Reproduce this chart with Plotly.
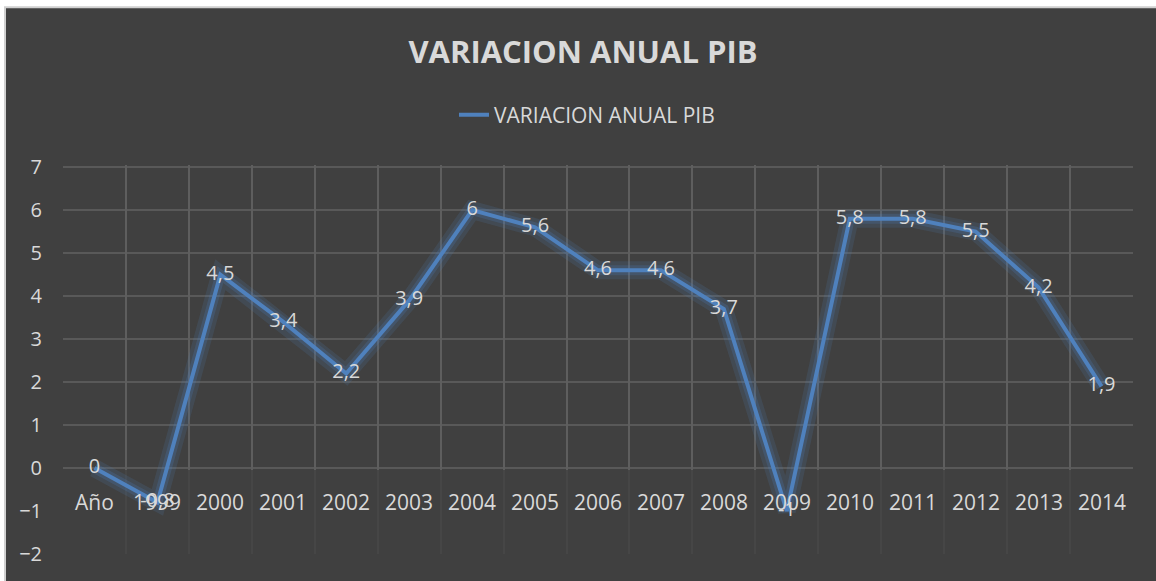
import plotly.graph_objects as go

categories = ["Año", "1999", "2000", "2001", "2002", "2003", "2004", "2005", "2006",
              "2007", "2008", "2009", "2010", "2011", "2012", "2013", "2014"]
values = [0, -0.8, 4.5, 3.4, 2.2, 3.9, 6, 5.6, 4.6, 4.6, 3.7, -1, 5.8, 5.8, 5.5, 4.2, 1.9]
y_ticks = [-2, -1, 0, 1, 2, 3, 4, 5, 6, 7]
series_name = "VARIACION ANUAL PIB"
title_text = "VARIACION ANUAL PIB"

labels = [f"{v:g}".replace(".", ",") for v in values]

BG = "#404040"
TXT = "#d9d9d9"
BLUE = "#4f81bd"
GRID = "#595959"
FONT = "Open Sans"

W, H = 1156, 581
ymin, ymax = y_ticks[0], y_ticks[-1]
PPU = (554 - 167) / (ymax - ymin)      # pixels per unit in the reference
PAD = 0.05                             # small headroom so the top gridline is drawn
L, R, B = 63, 23, 27
T = 167 - PAD * PPU
pw = W - L - R
ph = H - T - B
top = ymax + PAD
g0 = -PAD
grid_dom0 = (g0 - ymin) / (top - ymin)

fig = go.Figure()
# invisible trace so the grid-only subplot (x, y) is drawn beneath the data subplot
fig.add_trace(go.Scatter(x=categories, y=[None] * len(categories), xaxis="x", yaxis="y",
                         showlegend=False, hoverinfo="skip"))
# glow
fig.add_trace(go.Scatter(x=categories, y=values, mode="lines", xaxis="x2", yaxis="y2",
                         line=dict(color="rgba(79,129,189,0.16)", width=18),
                         showlegend=False, hoverinfo="skip"))
fig.add_trace(go.Scatter(x=categories, y=values, mode="lines", xaxis="x2", yaxis="y2",
                         line=dict(color="rgba(79,129,189,0.22)", width=10),
                         showlegend=False, hoverinfo="skip"))
fig.add_trace(go.Scatter(x=categories, y=values, mode="lines+text", name=series_name,
                         xaxis="x2", yaxis="y2",
                         line=dict(color=BLUE, width=4),
                         text=labels, textposition="middle center", cliponaxis=False,
                         textfont=dict(color=TXT, size=20, family=FONT)))

# category labels placed next to the zero line (Excel axis crossing at 0)
for i, c in enumerate(categories):
    fig.add_annotation(x=i, y=0, xref="x2", yref="y2", text=c, showarrow=False,
                       yshift=-34, font=dict(color=TXT, size=21, family=FONT))

# chart area box with light frame (white page strip at top/left as in the reference)
fig.add_shape(type="rect", xref="paper", yref="paper",
              x0=(5 - L) / pw, x1=(W + 10 - L) / pw,
              y0=(-B - 10) / ph, y1=(H - B - 7) / ph,
              fillcolor=BG, line=dict(color="#d0d0d0", width=2), layer="below")

rng_x = [-0.5, len(categories) - 0.5]
fig.update_layout(
    width=W, height=H,
    paper_bgcolor="#ffffff", plot_bgcolor="rgba(0,0,0,0)",
    margin=dict(l=L, r=R, t=T, b=B),
    title=dict(text=f"<b>{title_text}</b>", x=583 / W, xanchor="center",
               y=1 - 52 / H, yanchor="middle",
               font=dict(color=TXT, size=31, family=FONT)),
    showlegend=True,
    legend=dict(orientation="h", x=(587 - L) / pw, xanchor="center",
                y=(H - B - 115) / ph, yanchor="middle",
                font=dict(color=TXT, size=21, family=FONT),
                bgcolor="rgba(0,0,0,0)"),
    # grid-only axes (upper part, from 0 to 7)
    xaxis=dict(type="category", range=rng_x, tickson="boundaries", showgrid=True,
               gridcolor=GRID, gridwidth=1.5, showticklabels=False,
               showline=False, zeroline=False, ticks="", anchor="y"),
    yaxis=dict(domain=[grid_dom0, 1], range=[g0, top], tickvals=[v for v in y_ticks if v >= 0],
               showgrid=True, gridcolor=GRID, gridwidth=1.5, zeroline=False,
               showticklabels=False, ticks="", anchor="x"),
    # data axes (full range)
    xaxis2=dict(type="category", range=rng_x, tickson="boundaries", showgrid=True,
                gridcolor="rgba(255,255,255,0.03)", gridwidth=1.5, showticklabels=False,
                showline=False, zeroline=False, ticks="", anchor="y2"),
    yaxis2=dict(domain=[0, 1], range=[ymin, top], tickvals=y_ticks, showgrid=False,
                zeroline=False, anchor="x2",
                tickfont=dict(color=TXT, size=20, family=FONT),
                ticklabelstandoff=20, showline=False),
)

fig.write_html("out.html", config={"displayModeBar": False},
               post_script="document.body.style.margin='0';document.body.style.overflow='hidden';")
